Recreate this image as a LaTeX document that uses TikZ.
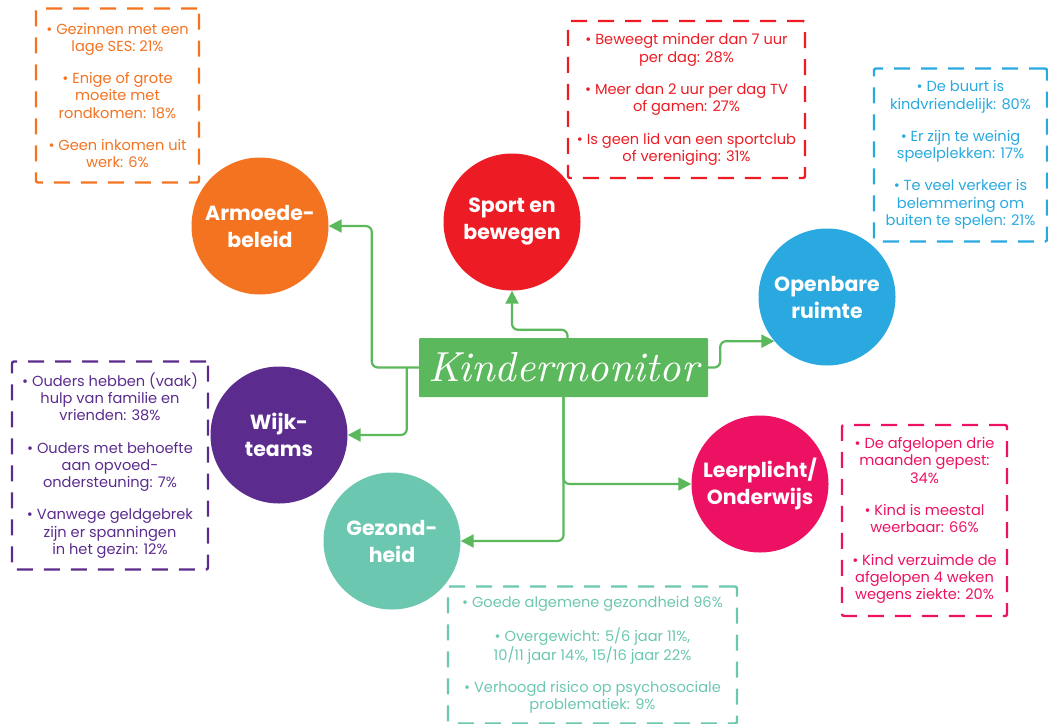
\documentclass[tikz,border=0pt]{standalone}
\usepackage{fontspec}
\setmainfont{Poppins}
\newfontfamily\handfont{lmroman10-italic.otf}
\usetikzlibrary{arrows.meta}
\definecolor{cOr}{HTML}{F37321}
\definecolor{cRd}{HTML}{ED1C24}
\definecolor{cBl}{HTML}{29A9E0}
\definecolor{cPu}{HTML}{5B2C8E}
\definecolor{cTe}{HTML}{6CC7B1}
\definecolor{cPk}{HTML}{EC1163}
\definecolor{cGr}{HTML}{5CB85C}
\begin{document}
\begin{tikzpicture}[x=1pt,y=-1pt,
  circ/.style={circle, minimum size=137pt, inner sep=0pt, text=white,
    font=\bfseries\fontsize{20.5}{27}\selectfont, align=center},
  dbox/.style={draw, line width=2.4pt, dash pattern=on 16pt off 11pt,
    rounded corners=2pt, align=center, inner sep=0pt,
    font=\fontsize{14.6}{17.3}\selectfont},
  conn/.style={draw=cGr, line width=2.2pt, rounded corners=6pt,
    -{Triangle[length=13pt,width=13pt]}}]
\useasboundingbox (0,0) rectangle (1048,723);

% main box
\node[fill=cGr, minimum width=289pt, minimum height=59pt, inner sep=0pt,
  rounded corners=1pt, text=white, font=\handfont\fontsize{42}{44}\selectfont]
  (km) at (563.5,367.5) {Kindermonitor};

% circles
\node[circ, fill=cOr] (arm) at (260,226) {Armoede-\\beleid};
\node[circ, fill=cRd] (sport) at (512,222) {Sport en\\bewegen};
\node[circ, fill=cBl] (open) at (827,297) {Openbare\\ruimte};
\node[circ, fill=cPu] (wijk) at (279,435) {Wijk-\\teams};
\node[circ, fill=cTe] (gez) at (392,541) {Gezond-\\heid};
\node[circ, fill=cPk] (leer) at (760,484) {Leerplicht/\\Onderwijs};

% info boxes
\node[dbox, draw=cOr, text=cOr, minimum width=163pt, minimum height=174pt]
  (iarm) at (117.5,95.5) {• Gezinnen met een\\lage SES: 21\%\\[15pt]
  • Enige of grote\\moeite met\\rondkomen: 18\%\\[15pt]
  • Geen inkomen uit\\werk: 6\%};
\node[dbox, draw=cRd, text=cRd, minimum width=237pt, minimum height=157pt]
  (isport) at (686.5,99.5) {• Beweegt minder dan 7 uur\\per dag: 28\%\\[15pt]
  • Meer dan 2 uur per dag TV\\of gamen: 27\%\\[15pt]
  • Is geen lid van een sportclub\\of vereniging: 31\%};
\node[dbox, draw=cBl, text=cBl, minimum width=173pt, minimum height=173pt]
  (iopen) at (960.5,155) {• De buurt is\\kindvriendelijk: 80\%\\[15pt]
  • Er zijn te weinig\\speelplekken: 17\%\\[15pt]
  • Te veel verkeer is\\belemmering om\\buiten te spelen: 21\%};
\node[dbox, draw=cPu, text=cPu, minimum width=196pt, minimum height=208pt]
  (iwijk) at (110,465.5) {• Ouders hebben (vaak)\\hulp van familie en\\vrienden: 38\%\\[15pt]
  • Ouders met behoefte\\aan opvoed-\\ondersteuning: 7\%\\[15pt]
  • Vanwege geldgebrek\\zijn er spanningen\\in het gezin: 12\%};
\node[dbox, draw=cTe, text=cTe, minimum width=289pt, minimum height=137pt]
  (igez) at (592.5,655) {• Goede algemene gezondheid 96\%\\[15pt]
  • Overgewicht: 5/6 jaar 11\%,\\10/11 jaar 14\%, 15/16 jaar 22\%\\[15pt]
  • Verhoogd risico op psychosociale\\problematiek: 9\%};
\node[dbox, draw=cPk, text=cPk, minimum width=165pt, minimum height=191pt]
  (ileer) at (924.5,520.5) {• De afgelopen drie\\maanden gepest:\\34\%\\[15pt]
  • Kind is meestal\\weerbaar: 66\%\\[15pt]
  • Kind verzuimde de\\afgelopen 4 weken\\wegens ziekte: 20\%};

% connectors
\draw[conn] (km.west) -- ++(-47,0) |- (arm.east);
\draw[conn] ([xshift=-12pt]km.west) |- (wijk.east);
\draw[conn] ([xshift=4pt]km.north) -- ++(0,-8) -| (sport.south);
\draw[conn] (km.east) -- ++(12,0) |- (open.220);
\draw[conn] (km.south) |- (leer.west);
\draw[conn] (km.south) |- (gez.east);
\end{tikzpicture}
\end{document}
